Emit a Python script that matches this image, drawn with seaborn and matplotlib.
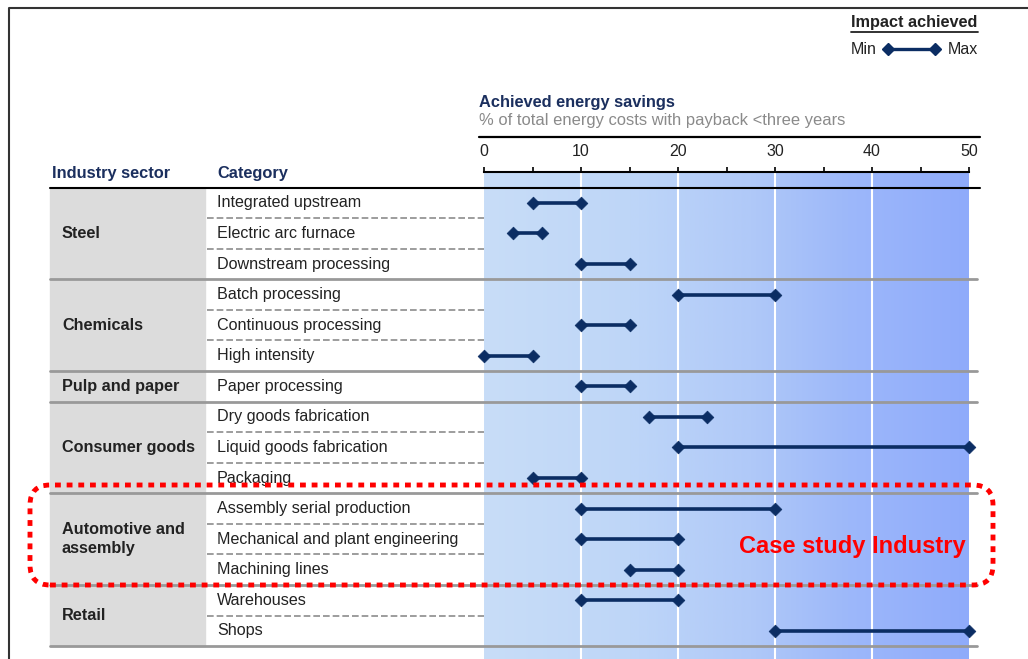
import numpy as np
import pandas as pd
import matplotlib.pyplot as plt
import matplotlib.transforms as mtransforms
from matplotlib.colors import LinearSegmentedColormap
from matplotlib.lines import Line2D
from matplotlib.patches import Rectangle, FancyBboxPatch
from matplotlib.ticker import MultipleLocator
import seaborn as sns

# data
sectors = ['Steel', 'Chemicals', 'Pulp and paper', 'Consumer goods',
           'Automotive and\nassembly', 'Retail']
sector_rows = [3, 3, 1, 3, 3, 2]
categories = ['Integrated upstream', 'Electric arc furnace', 'Downstream processing',
              'Batch processing', 'Continuous processing', 'High intensity',
              'Paper processing',
              'Dry goods fabrication', 'Liquid goods fabrication', 'Packaging',
              'Assembly serial production', 'Mechanical and plant engineering',
              'Machining lines',
              'Warehouses', 'Shops']
min_saving = [5, 3, 10, 20, 10, 0, 10, 17, 20, 5, 10, 10, 15, 10, 30]
max_saving = [10, 6, 15, 30, 15, 5, 15, 23, 50, 10, 30, 20, 20, 20, 50]
x_ticks = [0, 10, 20, 30, 40, 50]

NAVY = '#0b2d63'
HEAD = '#1b2f5e'
TEXT = '#222222'
W, H = 1028, 659

sns.set_style('white')
plt.rcParams['font.family'] = ['Liberation Sans', 'DejaVu Sans']
NARROW = ['Liberation Sans Narrow', 'Liberation Sans', 'DejaVu Sans']

df = pd.DataFrame({'category': categories, 'lo': min_saving, 'hi': max_saving})
df['row'] = np.arange(len(df))
long = df.melt(id_vars=['category', 'row'], value_vars=['lo', 'hi'], value_name='saving')


def fx(px):
    return px / W


def fy(py):
    return 1 - py / H


fig = plt.figure(figsize=(W / 100, H / 100), dpi=100)
ax = fig.add_axes([fx(484), 0, fx(969) - fx(484), fy(172)])
y_bottom, y_top = 14.92, -1.01

# background gradient band
cmap = LinearSegmentedColormap.from_list(
    'band', [(0, '#c8ddf7'), (0.3, '#bed6f8'), (0.55, '#b0c9f8'), (0.75, '#9db8fa'), (1, '#8fabfb')])
ax.imshow(np.linspace(0, 1, 256)[None, :], extent=[0, 50, y_bottom, y_top],
          aspect='auto', cmap=cmap, zorder=0)
for t in x_ticks[1:-1]:
    ax.axvline(t, color='white', lw=1.5, zorder=1)

# dumbbells
ax.hlines(df['row'], df['lo'], df['hi'], color=NAVY, lw=2.6, zorder=3)
sns.scatterplot(data=long, x='saving', y='row', marker='D', s=42, color=NAVY,
                edgecolor=NAVY, linewidth=0.5, legend=False, zorder=4, ax=ax, clip_on=False)

ax.set_xlim(0, 50)
ax.set_ylim(y_bottom, y_top)
ax.set_xlabel('')
ax.set_ylabel('')
ax.set_yticks([])
ax.xaxis.tick_top()
ax.set_xticks(x_ticks)
ax.xaxis.set_minor_locator(MultipleLocator(5))
ax.tick_params(axis='x', which='both', top=True, bottom=False, direction='out',
               length=3.5, width=1.2, color='black', pad=6, labelsize=11.5, labelcolor=TEXT)
for lbl in ax.get_xticklabels():
    lbl.set_fontfamily(NARROW)
for s in ['left', 'right', 'bottom']:
    ax.spines[s].set_visible(False)
ax.spines['top'].set_color('black')
ax.spines['top'].set_linewidth(1.5)

# left table
blend = mtransforms.blended_transform_factory(fig.transFigure, ax.transData)
fig.add_artist(Rectangle((fx(50), -0.5), fx(205) - fx(50), len(categories),
                         transform=blend, color='#dcdcdc', zorder=1))

start = 0
for name, n in zip(sectors, sector_rows):
    fig.text(fx(62), start + (n - 1) / 2, name, transform=blend, va='center',
             fontsize=11.7, fontweight='bold', color=TEXT, linespacing=1.3)
    for r in range(start, start + n - 1):
        fig.add_artist(Line2D([fx(207), fx(484)], [r + 0.5, r + 0.5], transform=blend,
                              color='#8c8c8c', lw=1.2, ls=(0, (4, 1.8)), zorder=2))
    start += n
    fig.add_artist(Line2D([fx(50), fx(977)], [start - 0.5, start - 0.5], transform=blend,
                          color='#999999', lw=2, zorder=2))

for i, c in enumerate(categories):
    fig.text(fx(217), i, c, transform=blend, va='center', fontsize=11.6, color=TEXT)

# headers
fig.text(fx(52), fy(174), 'Industry sector', va='center', fontsize=11.8,
         fontweight='bold', color=HEAD, family=NARROW)
fig.text(fx(217), fy(174), 'Category', va='center', fontsize=11.8,
         fontweight='bold', color=HEAD, family=NARROW)
fig.add_artist(Line2D([fx(50), fx(980)], [fy(188)] * 2, color='black', lw=1.5, zorder=3))

fig.text(fx(479), fy(102), 'Achieved energy savings', va='center', fontsize=11.8,
         fontweight='bold', color=HEAD, family=NARROW)
fig.text(fx(479), fy(121), '% of total energy costs with payback <three years', va='center',
         fontsize=11.9, color='#8a8a8a', family=NARROW)
fig.add_artist(Line2D([fx(479), fx(980)], [fy(137)] * 2, color='black', lw=1.6))

# legend
fig.text(fx(851), fy(22), 'Impact achieved', va='center', fontsize=11.7,
         fontweight='bold', color=TEXT, family=NARROW)
fig.add_artist(Line2D([fx(851), fx(978)], [fy(32)] * 2, color=TEXT, lw=1.3))
fig.text(fx(851), fy(49), 'Min', va='center', fontsize=11.5, color=TEXT, family=NARROW)
fig.text(fx(978), fy(49), 'Max', ha='right', va='center', fontsize=11.5, color=TEXT, family=NARROW)
fig.add_artist(Line2D([fx(888), fx(935)], [fy(49)] * 2, color=NAVY, lw=2.4,
                      marker='D', markersize=6))

# case study highlight
fig.add_artist(FancyBboxPatch((0.30, 0.74), 9.63, 1.0,
                              boxstyle='round,pad=0,rounding_size=0.2',
                              transform=fig.dpi_scale_trans, fill=False, ec='#ff0000',
                              lw=3.5, ls=(0, (1.2, 1.2)), zorder=6))
fig.text(fx(852), fy(547), 'Case study Industry', ha='center', va='center',
         fontsize=17, fontweight='bold', color='#ff0000', zorder=6)

# frame
fig.add_artist(Line2D([fx(9), fx(9), 1], [0, fy(8), fy(8)], color='#333333', lw=1.5))

fig.savefig('out.png', dpi=100)
